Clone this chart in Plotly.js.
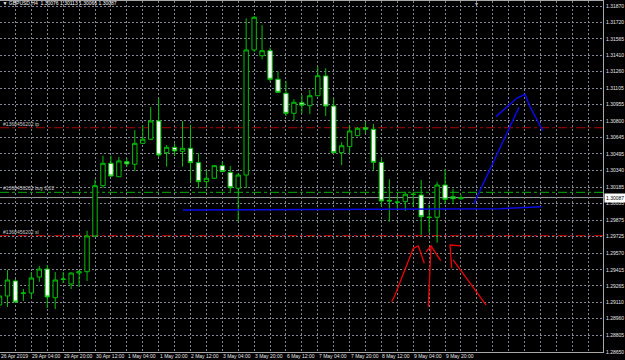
<!DOCTYPE html>
<html><head><meta charset="utf-8">
<script src="https://cdn.plot.ly/plotly-3.0.1.min.js"></script>
<style>html,body{margin:0;padding:0;background:#000;}#chart{width:625px;height:360px;}</style>
</head><body><div id="chart"></div>
<script>
// GBPUSD H4 bars (bar index 0 = 26 Apr 12:00)
const opens = [1.29088,1.29171,1.29311,1.29194,1.29199,1.29348,1.29422,1.29155,1.29325,1.29283,
1.29385,1.29397,1.29730,1.30198,1.30406,1.30281,1.30421,1.30397,1.30592,1.30630,
1.30800,1.30505,1.30555,1.30518,1.30546,1.30412,1.30235,1.30267,1.30384,1.30322,
1.30174,1.30297,1.31461,1.31407,1.31454,1.31188,1.31058,1.30871,1.30970,1.30942,
1.31035,1.31219,1.30939,1.30505,1.30561,1.30663,1.30737,1.30723,1.30415,1.30062,
1.30041,1.30049,1.30116,1.30111,1.29906,1.29904,1.30204,1.30095,1.30076];
const highs = [1.29199,1.29413,1.29329,1.29236,1.29395,1.29450,1.29460,1.29395,1.29395,1.29390,
1.29413,1.29779,1.30257,1.30477,1.30477,1.30465,1.30453,1.30716,1.30763,1.30930,
1.31014,1.30576,1.30592,1.30800,1.30763,1.30499,1.30344,1.30390,1.30421,1.30381,
1.30316,1.31756,1.31777,1.31693,1.31482,1.31259,1.31172,1.31002,1.31042,1.31088,
1.31305,1.31290,1.31011,1.30602,1.30763,1.30744,1.30788,1.30772,1.30453,1.30257,
1.30111,1.30142,1.30142,1.30251,1.30018,1.30235,1.30350,1.30167,1.30113];
const lows = [1.29060,1.29069,1.29115,1.29125,1.29143,1.29302,1.29060,1.29050,1.29292,1.29236,
1.29255,1.29311,1.29720,1.30179,1.30279,1.30279,1.30375,1.30335,1.30586,1.30623,
1.30465,1.30375,1.30474,1.30375,1.30235,1.30174,1.30174,1.30260,1.30325,1.30142,
1.29863,1.30176,1.31442,1.31374,1.31166,1.31058,1.30846,1.30809,1.30871,1.30865,
1.31032,1.30846,1.30502,1.30390,1.30499,1.30660,1.30685,1.30335,1.30002,1.29863,
1.29972,1.29962,1.30002,1.29739,1.29758,1.29667,1.30027,1.30027,1.30066];
const closes = [1.29171,1.29320,1.29115,1.29199,1.29339,1.29422,1.29162,1.29320,1.29329,1.29385,
1.29397,1.29730,1.30198,1.30406,1.30288,1.30428,1.30400,1.30592,1.30630,1.30800,
1.30483,1.30555,1.30521,1.30546,1.30412,1.30235,1.30267,1.30384,1.30328,1.30179,
1.30297,1.31461,1.31765,1.31454,1.31188,1.31067,1.30871,1.30974,1.30946,1.31035,
1.31221,1.30939,1.30505,1.30570,1.30707,1.30732,1.30723,1.30415,1.30055,1.30055,
1.30046,1.30118,1.30118,1.29909,1.29902,1.30204,1.30071,1.30077,1.30087];

const xTickIdx = [0,4,8,12,16,20,24,28,32,36,40,44,48,52,56];
const xTickText = ['26 Apr 2019','29 Apr 04:00','29 Apr 20:00','30 Apr 12:00','1 May 04:00','1 May 20:00',
'2 May 12:00','3 May 04:00','3 May 20:00','6 May 12:00','7 May 04:00','7 May 20:00','8 May 12:00','9 May 04:00','9 May 20:00'];
const yTickVals = [1.28650,1.28805,1.28960,1.29110,1.29265,1.29415,1.29570,1.29725,1.29875,1.30035,1.30185,
1.30340,1.30495,1.30645,1.30800,1.30955,1.31105,1.31260,1.31410,1.31565,1.31720,1.31870];

const tpPrice = 1.30737, buyPrice = 1.30136, slPrice = 1.29732, bidPrice = 1.30087;
const orderLabels = ['#1368456202 tp', '#1368456202 buy 0.02', '#1368456202 sl'];
const titleText = '▼ GBPUSD,H4  1.30076 1.30113 1.30066 1.30087';

// hand drawings (bar index, price)
const blueFlatX = [23.06, 62.9, 68.14], blueFlatY = [1.29972, 1.29984, 1.30002];
const blueRiseX = [59.6, 65.29], blueRiseY = [1.30027, 1.30927];
const blueArcX = [62.40,63.32,64.16,65.00,66.05,66.67,67.52,68.27];
const blueArcY = [1.30840,1.30902,1.30958,1.31011,1.31048,1.30933,1.30816,1.30710];
const redLeftX = [49.29,49.71,52.01,52.64,53.39], redLeftY = [1.29118,1.29181,1.29615,1.29637,1.29476];
const redMidX = [53.89,54.23], redMidY = [1.29072,1.29637];
const redMidHeadX = [53.60,54.23,55.45], redMidHeadY = [1.29581,1.29637,1.29500];
const redRightX = [57.96,56.62,56.83], redRightY = [1.29637,1.29646,1.29429];
const redRightDiagX = [57.03,61.14], redRightDiagY = [1.29506,1.29088];

const X_RANGE = [0.058, 75.85];
const xs = opens.map((_, i) => i);
const GREEN = '#00c000';
const FONT = 'Liberation Sans, Arial, sans-serif';

function ln(x, y, color, w) {
  return {type:'scatter', mode:'lines', x:x, y:y, line:{color:color, width:w}, hoverinfo:'skip', showlegend:false};
}

const traces = [
  {type:'candlestick', x:xs, open:opens, high:highs, low:lows, close:closes,
   increasing:{line:{color:GREEN, width:1}, fillcolor:'#000000'},
   decreasing:{line:{color:GREEN, width:1}, fillcolor:'#ffffff'},
   whiskerwidth:0, showlegend:false, hoverinfo:'skip'},
  ln(blueFlatX, blueFlatY, '#0a0ae6', 1.5),
  ln(blueRiseX, blueRiseY, '#0a0ae6', 1.5),
  ln(blueArcX, blueArcY, '#0a0ae6', 1.5),
  ln(redLeftX, redLeftY, '#ee0000', 1.3),
  ln(redMidX, redMidY, '#ee0000', 1.3),
  ln(redMidHeadX, redMidHeadY, '#ee0000', 1.3),
  ln(redRightX, redRightY, '#ee0000', 1.3),
  ln(redRightDiagX, redRightDiagY, '#ee0000', 1.3)
];

function hline(y, color, dash) {
  return {type:'line', xref:'paper', x0:0, x1:1, yref:'y', y0:y, y1:y, layer:'below',
          line:{color:color, width:1, dash:dash}};
}

const annotations = [];
xTickIdx.forEach((v, k) => annotations.push({
  xref:'x', x:Math.max(v, X_RANGE[0] + 0.01), yref:'paper', y:0, xanchor:'left', yanchor:'top', yshift:0, showarrow:false,
  text:xTickText[k], font:{family:FONT, size:5, color:'#e6e6e6'}, borderpad:0
}));
[tpPrice, buyPrice, slPrice].forEach((p, k) => annotations.push({
  xref:'paper', x:0, xshift:2, yref:'y', y:p, xanchor:'left', yanchor:'bottom', showarrow:false,
  text:orderLabels[k], font:{family:FONT, size:5, color:'#c8c8c8'}, borderpad:0
}));
annotations.push({xref:'paper', x:1, xshift:1, yref:'y', y:bidPrice, xanchor:'left', yanchor:'middle',
  showarrow:false, text:bidPrice.toFixed(5), bgcolor:'#ffffff', font:{family:FONT, size:5, color:'#000000'}, borderpad:1});
annotations.push({xref:'paper', x:480/603, yref:'paper', y:1, yanchor:'top', yshift:2, showarrow:false,
  text:'▾', font:{family:FONT, size:6, color:'#b0b0b0'}});

const layout = {
  width:625, height:360,
  margin:{l:0, r:22, t:1, b:8, pad:0},
  paper_bgcolor:'#000000', plot_bgcolor:'#000000',
  title:{text:titleText, x:0.004, xanchor:'left', y:0.997, yanchor:'top', font:{family:FONT, size:5, color:'#ffffff'}},
  showlegend:false, hovermode:false, dragmode:false,
  boxgap:0.45, boxgroupgap:0,
  xaxis:{type:'linear', range:X_RANGE, tickmode:'linear', tick0:0, dtick:2,
         showticklabels:false, ticks:'', showgrid:true, gridcolor:'#7f8590', griddash:'2px,2px', gridwidth:1,
         zeroline:false, showline:true, linecolor:'#a8a8a8', linewidth:1, mirror:true,
         rangeslider:{visible:false}, fixedrange:true},
  yaxis:{side:'right', range:[1.28650, 1.319165], tickmode:'array', tickvals:yTickVals,
         ticktext:yTickVals.map(v => v.toFixed(5)), ticks:'', ticklabelstandoff:1,
         tickfont:{family:FONT, size:5, color:'#e6e6e6'},
         showgrid:true, gridcolor:'#7f8590', griddash:'2px,2px', gridwidth:1,
         zeroline:false, showline:true, linecolor:'#a8a8a8', linewidth:1, fixedrange:true},
  shapes:[
    hline(tpPrice, '#b00000', 'dashdot'),
    hline(buyPrice, '#00b000', 'dashdot'),
    hline(slPrice, '#e00000', 'dashdot'),
    hline(bidPrice, '#a0a0a0', 'solid')
  ],
  annotations:annotations
};

Plotly.newPlot('chart', traces, layout, {staticPlot:true, displayModeBar:false});
</script></body></html>
